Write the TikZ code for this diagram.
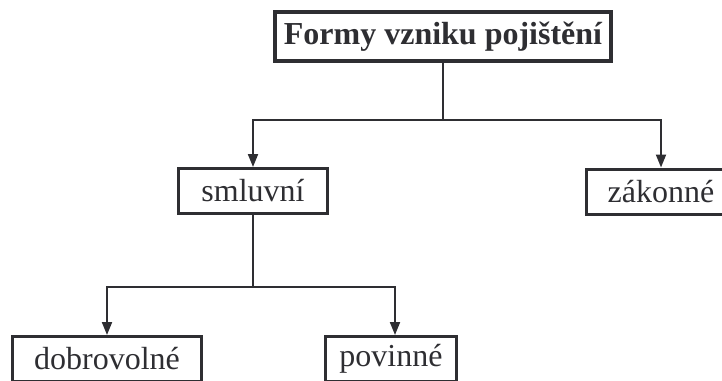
\documentclass[tikz,border=0pt]{standalone}
\usepackage{fontspec}
\setmainfont{Liberation Serif}
\usetikzlibrary{arrows.meta}
\definecolor{ink}{RGB}{46,46,50}
\begin{document}
\begin{tikzpicture}[x=1pt,y=-1pt,
  box/.style={draw=ink,text=ink,line width=3pt,inner sep=0pt,
    minimum height=45pt,font=\fontsize{32}{38}\selectfont},
  headbox/.style={box,line width=4.2pt,minimum height=49pt,
    font=\fontsize{32}{38}\selectfont\bfseries},
  link/.style={draw=ink,line width=2pt},
  arr/.style={link,-{Triangle[length=13pt,width=10pt]}}]
  \useasboundingbox (0,0) rectangle (722,380);
  \clip (0,0) rectangle (722,380);
  % tree nodes
  \node[headbox,minimum width=336pt] (root) at (443,36.5) {Formy vzniku pojištění};
  \node[box,minimum width=149pt] (smluvni) at (253,191) {smluvní};
  \node[box,minimum width=150pt] (zakonne) at (661,191.5) {zákonné};
  \node[box,minimum width=189pt] (dobro) at (107,359) {dobrovolné};
  \node[box,minimum width=131pt] (povinne) at (391,359) {povinné};
  % branch points
  \coordinate (j1) at (root.south |- 0,120);
  \coordinate (j2) at (smluvni.south |- 0,287);
  % connectors
  \draw[link] (root.south) -- (j1);
  \draw[arr] (j1) -| (smluvni.north);
  \draw[arr] (j1) -| (zakonne.north);
  \draw[link] (smluvni.south) -- (j2);
  \draw[arr] (j2) -| (dobro.north);
  \draw[arr] (j2) -| ([xshift=4pt]povinne.north);
\end{tikzpicture}
\end{document}
